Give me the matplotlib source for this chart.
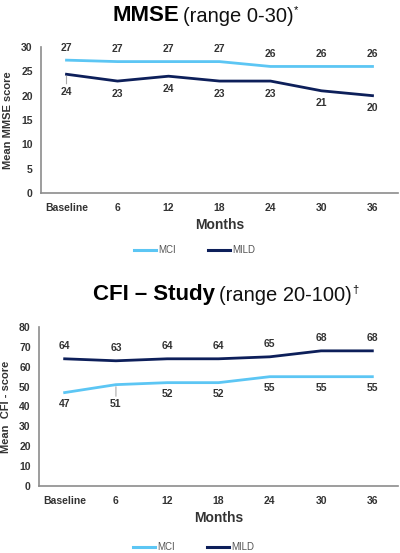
import matplotlib
matplotlib.use("Agg")
import matplotlib.pyplot as plt

plt.rcParams["font.family"] = ["Liberation Sans", "DejaVu Sans"]

MONTHS = ["Baseline", "6", "12", "18", "24", "30", "36"]

MMSE_MCI  = [27.3, 27, 27, 27, 26, 26, 26]
MMSE_MILD = [24.4, 23, 24, 23, 23, 21, 20]
MMSE_MCI_LABELS  = [27, 27, 27, 27, 26, 26, 26]
MMSE_MILD_LABELS = [24, 23, 24, 23, 23, 21, 20]

CFI_MCI  = [47, 51, 52, 52, 55, 55, 55]
CFI_MILD = [64, 63, 64, 64, 65, 68, 68]

MCI_COLOR  = "#5cc6f4"
MILD_COLOR = "#0d1f5a"
TEXT_COLOR = "#333333"
AXIS_COLOR = "#8c8c8c"


def title(fig, x, y, bold, rest, sup):
    t1 = fig.text(x, y, bold, fontsize=16, fontweight="bold", ha="left", va="center", color="black")
    t2 = plt.annotate(rest, xy=(1, 0), xycoords=t1, xytext=(3, 0), textcoords="offset points",
                      fontsize=14.5, ha="left", va="bottom", color="#111111")
    plt.annotate(sup, xy=(1, 0.55), xycoords=t2, xytext=(0.5, 0), textcoords="offset points",
                 fontsize=8, ha="left", va="bottom", color="black")


def style_axes(ax, ymax, ystep, ylabel):
    x = range(len(MONTHS))
    ax.set_xlim(-0.5, 6.5)
    ax.set_ylim(0, ymax)
    ax.set_yticks(range(0, ymax + 1, ystep))
    ax.set_xticks(list(x))
    ax.set_xticklabels(MONTHS)
    ax.tick_params(axis="x", pad=7)
    ax.tick_params(axis="y", pad=6)
    ax.tick_params(length=0, labelsize=7.5, colors=TEXT_COLOR)
    for lab in ax.get_xticklabels() + ax.get_yticklabels():
        lab.set_fontweight("bold")
    for s in ["top", "right"]:
        ax.spines[s].set_visible(False)
    for s in ["left", "bottom"]:
        ax.spines[s].set_color(AXIS_COLOR)
        ax.spines[s].set_linewidth(1.2)
    ax.set_xlabel("Months", fontsize=10, fontweight="bold", color=TEXT_COLOR, labelpad=4)
    ax.set_ylabel(ylabel, fontsize=8, fontweight="bold", color=TEXT_COLOR, labelpad=6)


def label_points(ax, values, labels, dy, leader=None):
    for i, (v, lab) in enumerate(zip(values, labels)):
        if leader is not None and i == leader[0]:
            ax.annotate(str(lab), xy=(i, v), xytext=(0, leader[1]), textcoords="offset points",
                        ha="center", va="center", fontsize=7.5, fontweight="bold", color=TEXT_COLOR,
                        arrowprops=dict(arrowstyle="-", color="#aaaaaa", lw=0.8, shrinkA=0, shrinkB=1.5))
        else:
            ax.annotate(str(lab), xy=(i, v), xytext=(0, dy), textcoords="offset points",
                        ha="center", va="center", fontsize=7.5, fontweight="bold", color=TEXT_COLOR)


def legend(ax, y):
    h1, = ax.plot([], [], color=MCI_COLOR, lw=2.2)
    h2, = ax.plot([], [], color=MILD_COLOR, lw=2.2)
    ax.legend([h1, h2], ["MCI", "MILD"], loc="center", bbox_to_anchor=(0.43, y),
              ncol=2, frameon=False, fontsize=7, labelcolor="#555555",
              handlelength=2.3, handletextpad=0.2, columnspacing=3.3)


fig = plt.figure(figsize=(4.0, 5.53), dpi=100)

# MMSE
ax1 = fig.add_axes([41 / 400, 1 - 193 / 553, 357 / 400, 146 / 553])
x = list(range(len(MONTHS)))
ax1.plot(x, MMSE_MCI, color=MCI_COLOR, lw=2.0, solid_joinstyle="round")
ax1.plot(x, MMSE_MILD, color=MILD_COLOR, lw=2.0, solid_joinstyle="round")
style_axes(ax1, 30, 5, "Mean MMSE score")
label_points(ax1, MMSE_MCI, MMSE_MCI_LABELS, 9)
label_points(ax1, MMSE_MILD, MMSE_MILD_LABELS, -9, leader=(0, -12.5))
legend(ax1, -0.39)
title(fig, 112 / 400, 1 - 15.5 / 553, "MMSE", "(range 0-30)", "*")

# CFI
ax2 = fig.add_axes([39 / 400, 1 - 486 / 553, 359 / 400, 159 / 553])
ax2.plot(x, CFI_MCI, color=MCI_COLOR, lw=2.0, solid_joinstyle="round")
ax2.plot(x, CFI_MILD, color=MILD_COLOR, lw=2.0, solid_joinstyle="round")
style_axes(ax2, 80, 10, "Mean  CFI - score")
label_points(ax2, CFI_MILD, CFI_MILD, 9)
label_points(ax2, CFI_MCI, CFI_MCI, -8, leader=(1, -14))
legend(ax2, -0.385)
title(fig, 93 / 400, 1 - 294.5 / 553, "CFI \u2013 Study", "(range 20-100)", "\u2020")

fig.savefig("out.png", dpi=100, facecolor="white")
